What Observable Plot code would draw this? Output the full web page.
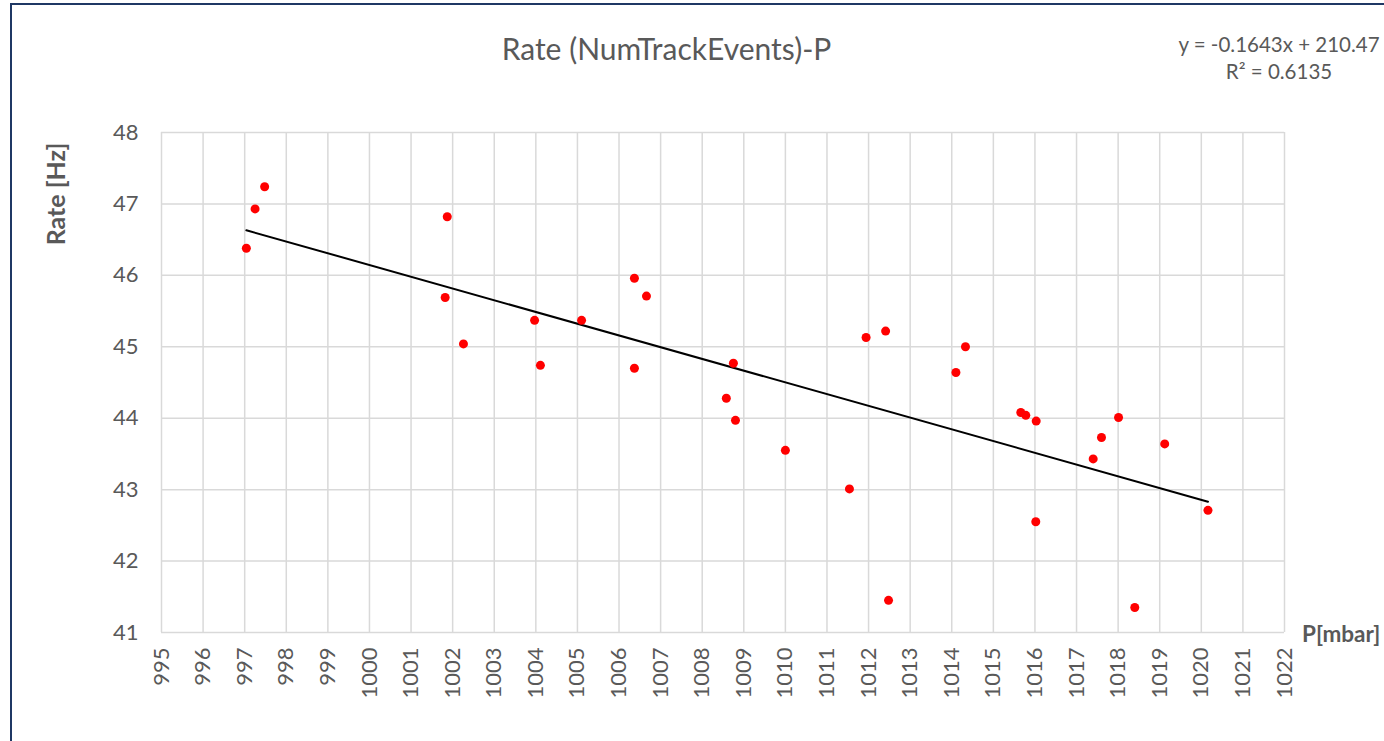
<!DOCTYPE html>
<html>
<head>
<meta charset="utf-8">
<script src="https://cdn.jsdelivr.net/npm/d3@7"></script>
<script src="https://cdn.jsdelivr.net/npm/@observablehq/plot@0.6"></script>
<style>
  html, body { margin: 0; padding: 0; background: #fff; overflow: hidden; }
  #wrap { position: relative; width: 1384px; height: 741px; overflow: hidden; font-family: Lato, "Open Sans", sans-serif; color: #595959; }
  #frame { position: absolute; left: 10px; top: 3px; width: 1400px; height: 800px; border: 2px solid #1f3864; box-sizing: border-box; }
  #chart { position: absolute; left: 0; top: 0; }
  .lbl { position: absolute; white-space: nowrap; }
  #title { left: 0; width: 1333px; top: 30px; text-align: center; font-size: 30px; }
  #eq { left: 1129px; width: 300px; top: 31px; font-size: 20.5px; line-height: 27px; text-align: center; }
  #ylab { left: 55px; top: 194px; font-size: 25px; font-weight: bold; transform: translate(-50%, -50%) rotate(-90deg); }
  #xlab { left: 1302px; top: 620px; font-size: 22.5px; font-weight: bold; }
</style>
</head>
<body>
<div id="wrap">
  <div id="frame"></div>
  <div id="chart"></div>
  <div class="lbl" id="title"></div>
  <div class="lbl" id="eq"><div id="eq1"></div><div id="eq2"></div></div>
  <div class="lbl" id="ylab"></div>
  <div class="lbl" id="xlab"></div>
</div>
<script>
// Data
const pressure = [997.04, 997.25, 997.48, 1001.87, 1001.82, 1002.26, 1003.97, 1004.11, 1005.10,
  1006.37, 1006.66, 1006.37, 1008.58, 1008.75, 1008.80, 1010.00, 1011.54, 1011.94, 1012.41,
  1012.48, 1014.10, 1014.33, 1015.66, 1015.78, 1016.03, 1016.02, 1017.40, 1017.60, 1018.01,
  1018.40, 1019.12, 1020.16];
const rate = [46.38, 46.93, 47.24, 46.82, 45.69, 45.04, 45.37, 44.74, 45.37,
  45.96, 45.71, 44.70, 44.28, 44.77, 43.97, 43.55, 43.01, 45.13, 45.22,
  41.45, 44.64, 45.00, 44.08, 44.04, 43.96, 42.55, 43.43, 43.73, 44.01,
  41.35, 43.64, 42.71];
const xTicks = [995, 996, 997, 998, 999, 1000, 1001, 1002, 1003, 1004, 1005, 1006, 1007, 1008,
  1009, 1010, 1011, 1012, 1013, 1014, 1015, 1016, 1017, 1018, 1019, 1020, 1021, 1022];
const yTicks = [41, 42, 43, 44, 45, 46, 47, 48];
const titleText = "Rate (NumTrackEvents)-P";
const equationText = "y = -0.1643x + 210.47";
const r2Text = "R² = 0.6135";
const yLabel = "Rate [Hz]";
const xLabel = "P[mbar]";

const data = pressure.map((p, i) => ({p, r: rate[i]}));

const chart = Plot.plot({
  width: 1384,
  height: 741,
  marginLeft: 161,
  marginRight: 100,
  marginTop: 132,
  marginBottom: 109,
  x: {domain: [995, 1022]},
  y: {domain: [41, 48]},
  style: {fontFamily: "Lato, 'Open Sans', sans-serif", color: "#595959", background: "transparent", overflow: "visible"},
  marks: [
    Plot.gridX(xTicks, {stroke: "#d9d9d9", strokeOpacity: 1, strokeWidth: 1.5}),
    Plot.gridY(yTicks, {stroke: "#d9d9d9", strokeOpacity: 1, strokeWidth: 1.5}),
    Plot.axisY(yTicks, {tickSize: 0, tickPadding: 23, fontSize: 22, label: null, fill: "#595959", tickFormat: d3.format("d")}),
    Plot.axisX(xTicks, {tickSize: 0, tickRotate: -90, tickPadding: 15, fontSize: 22, label: null, fill: "#595959", tickFormat: d3.format("d")}),
    Plot.linearRegressionY(data, {x: "p", y: "r", stroke: "black", strokeWidth: 2, ci: 0}),
    Plot.dot(data, {x: "p", y: "r", r: 4.5, fill: "#ff0000"})
  ]
});
document.getElementById("chart").appendChild(chart);
document.getElementById("title").textContent = titleText;
document.getElementById("eq1").textContent = equationText;
document.getElementById("eq2").textContent = r2Text;
document.getElementById("ylab").textContent = yLabel;
document.getElementById("xlab").textContent = xLabel;
</script>
</body>
</html>
